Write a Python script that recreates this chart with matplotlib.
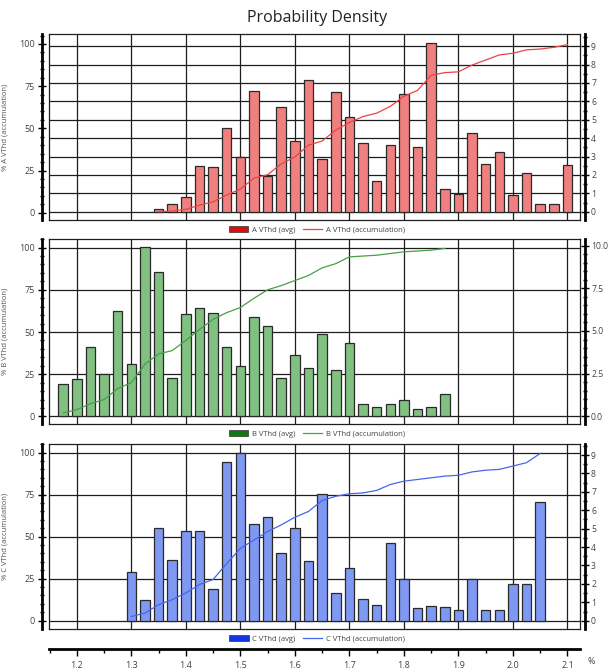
import matplotlib
matplotlib.use("Agg")
import matplotlib.pyplot as plt
from matplotlib.patches import Patch
from matplotlib.lines import Line2D
from matplotlib.ticker import MultipleLocator, FormatStrFormatter

plt.rcParams['font.family'] = ['Open Sans', 'DejaVu Sans']

# bin centres (% VThd), bar heights (right axis) and accumulation (left axis, %)
a_bins = [1.35, 1.375, 1.4, 1.425, 1.45, 1.475, 1.5, 1.525, 1.55, 1.575, 1.6,
          1.625, 1.65, 1.675, 1.7, 1.725, 1.75, 1.775, 1.8, 1.825, 1.85, 1.875,
          1.9, 1.925, 1.95, 1.975, 2.0, 2.025, 2.05, 2.075, 2.1]
a_avg = [0.15, 0.42, 0.78, 2.5, 2.43, 4.55, 2.99, 6.56, 1.96, 5.67, 3.84,
         7.16, 2.84, 6.5, 5.16, 3.71, 1.67, 3.62, 6.38, 3.53, 9.15, 1.25,
         0.98, 4.29, 2.61, 3.22, 0.91, 2.12, 0.43, 0.40, 2.52]
a_acc = [0.6, 1, 2, 4.5, 6.5, 10.5, 14, 20.5, 22.5, 29, 33,
         40, 42.5, 49, 53.5, 57, 59, 63, 69, 72.5, 81.5, 83,
         83.5, 87.5, 90.5, 93.5, 94.5, 96.5, 97, 98, 99.6]

b_bins = [1.175, 1.2, 1.225, 1.25, 1.275, 1.3, 1.325, 1.35, 1.375, 1.4, 1.425,
          1.45, 1.475, 1.5, 1.525, 1.55, 1.575, 1.6, 1.625, 1.65, 1.675, 1.7,
          1.725, 1.75, 1.775, 1.8, 1.825, 1.85, 1.875]
b_avg = [1.87, 2.16, 4.07, 2.46, 6.19, 3.08, 9.92, 8.45, 2.22, 5.99, 6.37,
         6.03, 4.07, 2.95, 5.80, 5.30, 2.26, 3.60, 2.85, 4.81, 2.71, 4.28,
         0.75, 0.57, 0.73, 0.94, 0.43, 0.53, 1.32]
b_acc = [2, 4, 7.5, 10, 16.5, 20, 31, 37, 39, 45, 51.5,
         57.5, 61.5, 64.5, 70, 75, 77.5, 80.5, 83.5, 88, 90.5, 94.5,
         95, 95.5, 96.5, 97.5, 98, 98.5, 99.5]

c_bins = [1.3, 1.325, 1.35, 1.375, 1.4, 1.425, 1.45, 1.475, 1.5, 1.525, 1.55,
          1.575, 1.6, 1.625, 1.65, 1.675, 1.7, 1.725, 1.75, 1.775, 1.8, 1.825,
          1.85, 1.875, 1.9, 1.925, 1.95, 1.975, 2.0, 2.025, 2.05]
c_avg = [2.64, 1.14, 5.03, 3.31, 4.85, 4.85, 1.72, 8.61, 9.13, 5.26, 5.61,
         3.67, 5.03, 3.25, 6.88, 1.48, 2.86, 1.19, 0.87, 4.21, 2.28, 0.69,
         0.80, 0.72, 0.60, 2.26, 0.60, 0.56, 2.0, 2.0, 6.47]
c_acc = [2.5, 4.5, 9.5, 12.5, 16.5, 21.5, 24.5, 34, 43, 48, 53,
         57, 61.5, 65, 71.5, 74, 75.5, 76, 77.5, 81, 83, 84,
         85, 86, 86.5, 88.5, 89.5, 90, 92, 94, 99.5]

x_ticks = [1.2, 1.3, 1.4, 1.5, 1.6, 1.7, 1.8, 1.9, 2.0, 2.1]
XLIM = (1.149, 2.123)

W_PX, H_PX = 609, 670
fig = plt.figure(figsize=(W_PX / 100, H_PX / 100), dpi=100)
L = 49 / W_PX
W = 531 / W_PX
TXT = '#444444'
GRID = '#1e1e1e'


def rect(top, bot):
    return [L, 1 - bot / H_PX, W, (bot - top) / H_PX]


def panel(top, bot, name, bins, avg, acc, bar_col, line_col, leg_col,
          left_lim, right_lim, right_major, right_minor, right_fmt, grid_right):
    pos = rect(top, bot)
    # bottom layer: frame + grid
    g = fig.add_axes(pos)
    g.set_xlim(*XLIM)
    g.set_xticks(x_ticks)
    if grid_right:
        g.set_ylim(*right_lim)
        g.yaxis.set_major_locator(MultipleLocator(right_major))
    else:
        g.set_ylim(*left_lim)
        g.yaxis.set_major_locator(MultipleLocator(25))
    g.grid(True, color=GRID, lw=0.9)
    g.tick_params(length=0, labelleft=False, labelbottom=False)
    for s in g.spines.values():
        s.set_color(GRID)
        s.set_linewidth(0.9)

    # bars, right axis
    ab = fig.add_axes(pos)
    ab.patch.set_visible(False)
    ab.bar(bins, avg, width=0.0175, color=bar_col, edgecolor='#2a2a2a', lw=0.9)
    ab.set_xlim(*XLIM)
    ab.set_ylim(*right_lim)
    ab.yaxis.tick_right()
    ab.yaxis.set_major_locator(MultipleLocator(right_major))
    ab.yaxis.set_minor_locator(MultipleLocator(right_minor))
    ab.yaxis.set_major_formatter(FormatStrFormatter(right_fmt))
    for k in ['left', 'top', 'bottom']:
        ab.spines[k].set_visible(False)
    ab.spines['right'].set_position(('outward', 3.5))
    ab.spines['right'].set_linewidth(2)
    ab.tick_params(axis='y', which='major', direction='inout', length=6,
                   width=1, labelsize=6.2, labelcolor=TXT, pad=1.5)
    ab.tick_params(axis='y', which='minor', direction='inout', length=3, width=1)
    ab.tick_params(axis='x', bottom=False, labelbottom=False)

    # accumulation line, left axis
    al = fig.add_axes(pos)
    al.patch.set_visible(False)
    al.plot(bins, acc, color=line_col, lw=0.9)
    al.set_xlim(*XLIM)
    al.set_ylim(*left_lim)
    al.yaxis.set_major_locator(MultipleLocator(25))
    al.yaxis.set_minor_locator(MultipleLocator(5))
    for k in ['right', 'top', 'bottom']:
        al.spines[k].set_visible(False)
    al.spines['left'].set_position(('outward', 5))
    al.spines['left'].set_linewidth(2)
    al.tick_params(axis='y', which='major', direction='inout', length=6,
                   width=1, labelsize=6.5, labelcolor=TXT, pad=2)
    al.tick_params(axis='y', which='minor', direction='inout', length=3, width=1)
    al.tick_params(axis='x', bottom=False, labelbottom=False)
    al.set_ylabel('% ' + name + ' VThd (accumulation)', fontsize=5.5,
                  color='#555555', labelpad=8)

    handles = [Patch(facecolor=leg_col, edgecolor='#333333', lw=0.5),
               Line2D([], [], color=line_col, lw=0.9)]
    labels = [name + ' VThd (avg)', name + ' VThd (accumulation)']
    fig.legend(handles, labels, loc='center', ncol=2, frameon=False,
               bbox_to_anchor=(317 / W_PX, 1 - (bot + 10) / H_PX),
               fontsize=5.5, handlelength=2.6, handleheight=0.9,
               columnspacing=0.9, handletextpad=0.5, labelcolor=TXT)


panel(34, 220, 'A', a_bins, a_avg, a_acc, '#F08080', '#EC4444', '#D81010',
      (-4.3, 105.9), (-0.45, 9.66), 1, 0.5, '%d', True)
panel(239, 424, 'B', b_bins, b_avg, b_acc, '#80C080', '#46A046', '#107810',
      (-4.5, 105.1), (-0.45, 10.39), 2.5, 0.5, '%.1f', False)
panel(444, 629, 'C', c_bins, c_avg, c_acc, '#7F98F2', '#4466EE', '#1438E0',
      (-4.95, 105.1), (-0.45, 9.6), 1, 0.5, '%d', False)

# shared x axis at the bottom
ax = fig.add_axes([L, 1 - 649 / H_PX, W, 0.0001])
ax.patch.set_visible(False)
ax.set_xlim(*XLIM)
ax.set_xticks(x_ticks)
ax.xaxis.set_minor_locator(MultipleLocator(0.05))
ax.xaxis.set_major_formatter(FormatStrFormatter('%.1f'))
ax.set_yticks([])
for k in ['left', 'right', 'top']:
    ax.spines[k].set_visible(False)
ax.spines['bottom'].set_linewidth(2)
ax.tick_params(axis='x', which='major', length=5, width=1, labelsize=6.5,
               labelcolor=TXT, pad=4)
ax.tick_params(axis='x', which='minor', length=3, width=1)
fig.text(591 / W_PX, 1 - 661 / H_PX, '%', fontsize=6.5, color=TXT,
         ha='center', va='center')

fig.text(317 / W_PX, 1 - 18 / H_PX, 'Probability Density', fontsize=11.5,
         color='#222222', ha='center', va='center')

fig.savefig('out.png', dpi=100)
